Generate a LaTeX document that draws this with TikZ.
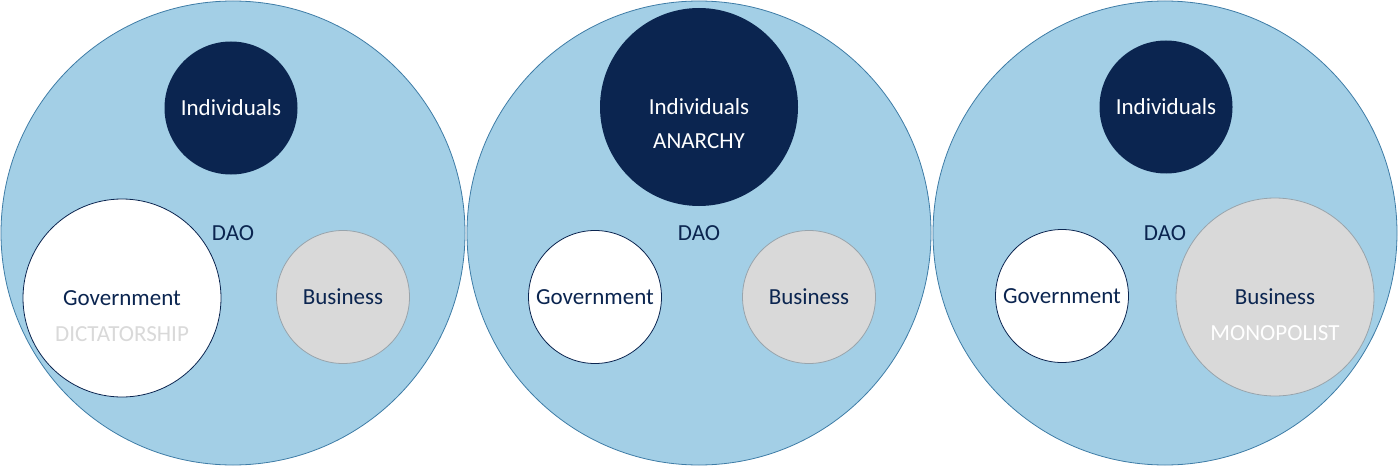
\documentclass[tikz,border=0pt]{standalone}
\usepackage{fontspec}
\setmainfont{Carlito}
\usetikzlibrary{positioning}
\definecolor{daofill}{HTML}{A3CFE6}
\definecolor{daoedge}{HTML}{3E7CA6}
\definecolor{navy}{HTML}{0B2550}
\definecolor{bizgray}{HTML}{D9D9D9}
\definecolor{bizedge}{HTML}{98A4AC}

\tikzset{
  dao/.style={circle, fill=daofill, draw=daoedge, line width=0.8pt, minimum size=464pt, inner sep=0pt, text=navy},
  indiv/.style={circle, fill=navy, draw=none, text=white, inner sep=0pt},
  govt/.style={circle, fill=white, draw=navy, line width=0.8pt, text=navy, inner sep=0pt},
  biz/.style={circle, fill=bizgray, draw=bizedge, line width=0.8pt, text=navy, inner sep=0pt},
  minor/.style={minimum size=133pt},
  major/.style={minimum size=198pt},
}

\begin{document}
\begin{tikzpicture}[x=1pt, y=-1pt, font=\fontsize{23}{28}\selectfont]
  \useasboundingbox (0,0) rectangle (1400,468);
  % dictatorship
  \node[dao] (dao1) at (233,233) {DAO};
  \node[indiv, minor] (ind1) at (231,108) {Individuals};
  \node[govt, major] (gov1) at (122,298) {Government};
  \node[biz, minor] (biz1) at (343,297) {Business};
  \node[text=bizgray] (dict) at (122,334) {DICTATORSHIP};
  % anarchy
  \node[dao] (dao2) at (699,233) {DAO};
  \node[indiv, major] (ind2) at (699,107) {Individuals};
  \node[govt, minor] (gov2) at (595,297) {Government};
  \node[biz, minor] (biz2) at (809,297) {Business};
  \node[text=white] (anar) at (699,141) {ANARCHY};
  % monopolist
  \node[dao] (dao3) at (1165,233) {DAO};
  \node[indiv, minor] (ind3) at (1166,107) {Individuals};
  \node[govt, minor] (gov3) at (1062,296) {Government};
  \node[biz, major] (biz3) at (1275,297) {Business};
  \node[text=white] (mono) at (1275,333) {MONOPOLIST};
\end{tikzpicture}
\end{document}
